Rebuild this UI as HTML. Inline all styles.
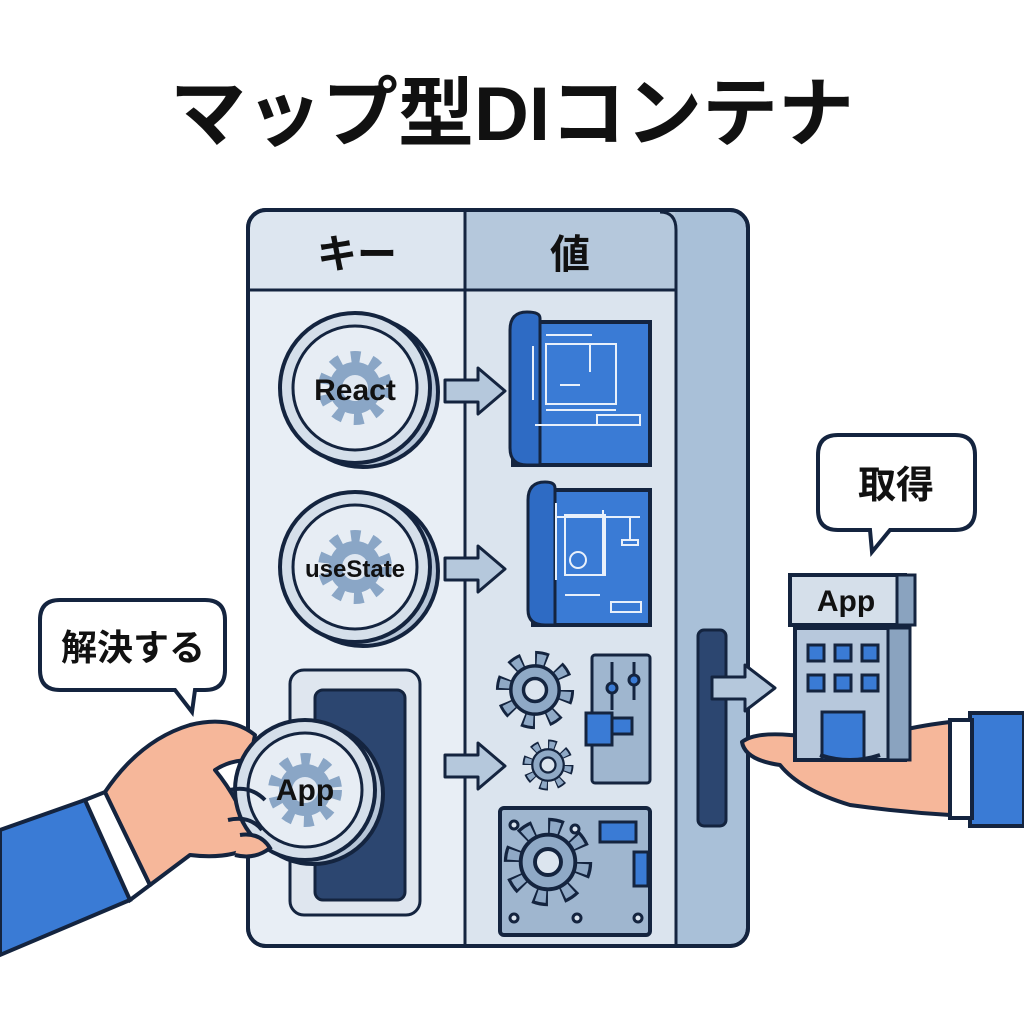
<!DOCTYPE html>
<html><head><meta charset="utf-8"><style>
html,body{margin:0;padding:0;background:#fff;}
svg{display:block}
text{font-family:"Liberation Sans","Noto Sans CJK JP",sans-serif;font-weight:bold;}
</style></head><body>
<svg width="1024" height="1024" viewBox="0 0 1024 1024" xmlns="http://www.w3.org/2000/svg">
<defs>
<g id="gear">
  <circle r="26" fill="none" stroke="#14243f" stroke-width="16" stroke-dasharray="10 10.4"/>
  <circle r="26" fill="none" stroke="#8fa9c6" stroke-width="11" stroke-dasharray="7 13.4" stroke-dashoffset="-1.5"/>
  <circle r="21" fill="#8fa9c6" stroke="#14243f" stroke-width="3"/>
  <circle r="10" fill="#dce5ef" stroke="#14243f" stroke-width="3"/>
</g>
<g id="coingear">
  <circle r="30" fill="none" stroke="#8aa6c6" stroke-width="14" stroke-dasharray="9 10.6"/>
  <circle r="26" fill="#8aa6c6"/>
  <circle r="13" fill="#dfe7f1"/>
</g>
</defs>

<text x="512" y="140" font-size="76" text-anchor="middle" fill="#111">マップ型DIコンテナ</text>

<!-- cabinet -->
<rect x="248" y="210" width="500" height="736" rx="18" fill="#a9c0d8" stroke="#14243f" stroke-width="4"/>
<path d="M250 290 H675 V944 H266 A16 16 0 0 1 250 928 Z" fill="#e8eef5"/>
<rect x="465" y="290" width="210" height="654" fill="#dbe4ee"/>
<path d="M266 212 H465 V290 H250 V228 A16 16 0 0 1 266 212 Z" fill="#dde6f0"/>
<rect x="465" y="212" width="210" height="78" fill="#b5c8dc"/>
<line x1="250" y1="290" x2="675" y2="290" stroke="#14243f" stroke-width="3"/>
<line x1="465" y1="212" x2="465" y2="944" stroke="#14243f" stroke-width="3"/>
<path d="M660 212 Q676 212 676 230 V944" fill="none" stroke="#14243f" stroke-width="3"/>
<rect x="248" y="210" width="500" height="736" rx="18" fill="none" stroke="#14243f" stroke-width="4"/>
<text x="357" y="268" font-size="40" text-anchor="middle" fill="#111">キー</text>
<text x="570" y="268" font-size="40" text-anchor="middle" fill="#111">値</text>
<rect x="698" y="630" width="28" height="196" rx="6" fill="#2c4670" stroke="#14243f" stroke-width="3"/>

<!-- slot -->
<rect x="290" y="670" width="130" height="245" rx="14" fill="#dfe6ef" stroke="#14243f" stroke-width="3"/>
<rect x="315" y="690" width="90" height="210" rx="8" fill="#2c4670" stroke="#14243f" stroke-width="3"/>

<!-- coins -->
<g transform="translate(355,388)">
 <circle cx="8" cy="4" r="75" fill="#b7c6d8" stroke="#14243f" stroke-width="4"/>
 <circle r="75" fill="#d5dfea" stroke="#14243f" stroke-width="4"/>
 <circle r="62" fill="#e7edf4" stroke="#14243f" stroke-width="3"/>
 <use href="#coingear"/>
 <text y="12" font-size="30" text-anchor="middle" fill="#111">React</text>
</g>
<g transform="translate(355,567)">
 <circle cx="8" cy="4" r="75" fill="#b7c6d8" stroke="#14243f" stroke-width="4"/>
 <circle r="75" fill="#d5dfea" stroke="#14243f" stroke-width="4"/>
 <circle r="62" fill="#e7edf4" stroke="#14243f" stroke-width="3"/>
 <use href="#coingear"/>
 <text y="10" font-size="24" text-anchor="middle" fill="#111">useState</text>
</g>

<!-- arrows -->
<g fill="#b5c8dc" stroke="#14243f" stroke-width="3" stroke-linejoin="round">
 <path d="M445 380 H478 V368 L505 391 L478 414 V402 H445 Z"/>
 <path d="M445 558 H478 V546 L505 569 L478 592 V580 H445 Z"/>
 <path d="M445 755 H478 V743 L505 766 L478 789 V777 H445 Z"/>
 <path d="M712 677 H745 V665 L775 688 L745 711 V699 H712 Z"/>
</g>

<!-- blueprint 1 -->
<rect x="513" y="322" width="137" height="143" fill="#3a7bd5" stroke="#14243f" stroke-width="4"/>
<path d="M527 312 Q510 312 510 330 V448 Q510 465 527 465 H540 V318 Q540 312 527 312 Z" fill="#2e6bc4" stroke="#14243f" stroke-width="3"/>
<g stroke="#e8f0fb" stroke-width="2" fill="none">
 <rect x="546" y="344" width="70" height="60"/><line x1="590" y1="344" x2="590" y2="372"/><line x1="560" y1="385" x2="580" y2="385"/>
 <line x1="533" y1="346" x2="533" y2="400"/><line x1="546" y1="335" x2="592" y2="335"/><line x1="546" y1="410" x2="616" y2="410"/>
 <line x1="535" y1="425" x2="640" y2="425"/><rect x="597" y="415" width="43" height="10"/>
</g>
<!-- blueprint 2 -->
<rect x="533" y="490" width="117" height="135" fill="#3a7bd5" stroke="#14243f" stroke-width="4"/>
<path d="M545 482 Q528 482 528 500 V610 Q528 625 545 625 H555 V488 Q555 482 545 482 Z" fill="#2e6bc4" stroke="#14243f" stroke-width="3"/>
<g stroke="#e8f0fb" stroke-width="2" fill="none">
 <rect x="565" y="515" width="40" height="60"/><line x1="555" y1="517" x2="640" y2="517"/><line x1="603" y1="510" x2="603" y2="575"/>
 <line x1="630" y1="517" x2="630" y2="540"/><rect x="622" y="540" width="16" height="5"/><circle cx="578" cy="560" r="8"/>
 <line x1="565" y1="595" x2="600" y2="595"/><rect x="611" y="602" width="30" height="10"/><line x1="556" y1="503" x2="556" y2="580"/>
</g>
<!-- gears -->
<g transform="translate(535,690) scale(1.15)"><use href="#gear"/></g>
<g transform="translate(548,765) scale(0.75)"><use href="#gear"/></g>
<rect x="592" y="655" width="58" height="128" rx="3" fill="#9fb6cf" stroke="#14243f" stroke-width="3"/>
<g stroke="#14243f" stroke-width="3" fill="#3a7bd5"><line x1="612" y1="662" x2="612" y2="710"/><line x1="634" y1="662" x2="634" y2="700"/><circle cx="612" cy="688" r="5"/><circle cx="634" cy="680" r="5"/><rect x="586" y="713" width="26" height="32"/><rect x="612" y="718" width="20" height="16"/></g>
<!-- circuit -->
<rect x="500" y="808" width="150" height="127" rx="4" fill="#9fb6cf" stroke="#14243f" stroke-width="4"/>
<g transform="translate(548,862) scale(1.3)"><use href="#gear"/></g>
<rect x="600" y="822" width="36" height="20" fill="#3a7bd5" stroke="#14243f" stroke-width="3"/>
<rect x="634" y="852" width="14" height="34" fill="#3a7bd5" stroke="#14243f" stroke-width="3"/>
<g fill="#dce5ef" stroke="#14243f" stroke-width="3"><circle cx="514" cy="825" r="4"/><circle cx="575" cy="829" r="4"/><circle cx="514" cy="918" r="4"/><circle cx="577" cy="918" r="4"/><circle cx="638" cy="918" r="4"/></g>

<!-- left bubble -->
<path d="M60 600 H205 Q225 600 225 620 V670 Q225 690 205 690 H195 L192 712 L175 690 H60 Q40 690 40 670 V620 Q40 600 60 600 Z" fill="#fff" stroke="#14243f" stroke-width="4"/>
<text x="133" y="660" font-size="36" text-anchor="middle" fill="#111">解決する</text>
<!-- right bubble -->
<path d="M838 435 H955 Q975 435 975 455 V510 Q975 530 955 530 H890 L872 552 L870 530 H838 Q818 530 818 510 V455 Q818 435 838 435 Z" fill="#fff" stroke="#14243f" stroke-width="4"/>
<text x="896" y="498" font-size="38" text-anchor="middle" fill="#111">取得</text>

<!-- left hand -->
<path d="M0 830 L85 800 L130 900 L0 955 Z" fill="#3a7bd5" stroke="#14243f" stroke-width="4"/>
<path d="M85 800 L105 792 L150 885 L130 900 Z" fill="#fff" stroke="#14243f" stroke-width="4"/>
<path d="M105 792 Q140 740 190 725 Q230 715 255 735 L250 760 Q230 760 215 770 Q240 800 255 845 Q230 860 190 855 L150 885 Z" fill="#f6b79a" stroke="#14243f" stroke-width="4" stroke-linejoin="round"/>
<g transform="translate(305,790)">
 <circle cx="8" cy="4" r="70" fill="#b7c6d8" stroke="#14243f" stroke-width="4"/>
 <circle r="70" fill="#d5dfea" stroke="#14243f" stroke-width="4"/>
 <circle r="57" fill="#e7edf4" stroke="#14243f" stroke-width="3"/>
 <use href="#coingear"/>
 <text y="10" font-size="30" text-anchor="middle" fill="#111">App</text>
</g>
<path d="M230 790 Q250 785 265 800 M228 820 Q250 815 262 830" fill="none" stroke="#14243f" stroke-width="4"/>
<path d="M240 835 Q260 832 270 848 Q255 860 235 855" fill="#f6b79a" stroke="#14243f" stroke-width="4"/>

<!-- right hand -->
<path d="M970 713 H1024 V826 H970 Z" fill="#3a7bd5" stroke="#14243f" stroke-width="4"/>
<path d="M950 720 H972 V818 H950 Z" fill="#fff" stroke="#14243f" stroke-width="4"/>
<path d="M950 722 Q900 728 870 740 L790 735 Q755 732 742 742 Q745 760 780 765 Q800 790 850 805 Q900 812 950 815 Z" fill="#f6b79a" stroke="#14243f" stroke-width="4" stroke-linejoin="round"/>
<!-- building -->
<rect x="795" y="628" width="110" height="132" fill="#b7c8dc" stroke="#14243f" stroke-width="4"/>
<rect x="888" y="628" width="22" height="132" fill="#8aa3bf" stroke="#14243f" stroke-width="3"/>
<g fill="#3a7bd5" stroke="#14243f" stroke-width="3">
 <rect x="808" y="645" width="16" height="16"/><rect x="835" y="645" width="16" height="16"/><rect x="862" y="645" width="16" height="16"/>
 <rect x="808" y="675" width="16" height="16"/><rect x="835" y="675" width="16" height="16"/><rect x="862" y="675" width="16" height="16"/>
 <rect x="822" y="712" width="42" height="48"/>
</g>
<rect x="790" y="575" width="115" height="50" fill="#d5dfea" stroke="#14243f" stroke-width="4"/>
<rect x="897" y="575" width="18" height="50" fill="#8aa3bf" stroke="#14243f" stroke-width="3"/>
<text x="846" y="611" font-size="30" text-anchor="middle" fill="#111">App</text>
<path d="M820 755 Q850 765 880 755" fill="none" stroke="#14243f" stroke-width="4"/>
</svg>
</body></html>
